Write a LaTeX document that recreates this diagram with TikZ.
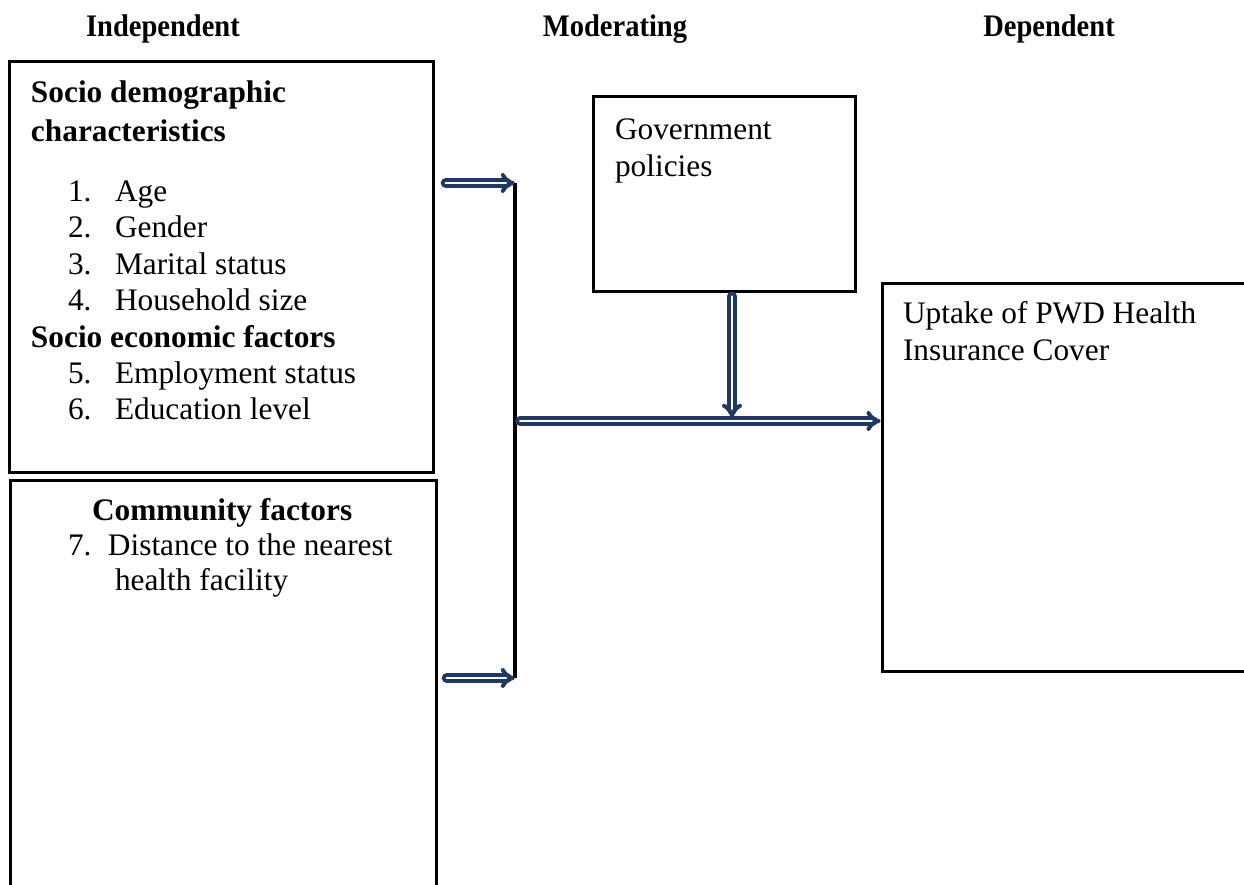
\documentclass[tikz,border=0pt]{standalone}
\usepackage{fontspec}
\setmainfont{Liberation Serif}
\newfontfamily\hdrfont{Liberation Serif}[FakeStretch=0.91]
\usetikzlibrary{fit,arrows.meta}
\definecolor{arrowblue}{RGB}{32,56,100}
\tikzset{
  box/.style={draw=black, line width=2.25pt, rectangle, inner sep=0pt, outer sep=0pt},
  txt/.style={anchor=base west, inner sep=0pt, outer sep=0pt, font=\fontsize{23.5}{27}\selectfont},
  btxt/.style={txt, font=\fontsize{23.5}{27}\selectfont\bfseries},
  hdr/.style={anchor=base, inner sep=0pt, font=\fontsize{23.5}{27}\selectfont\hdrfont\bfseries},
  darr/.style={draw=arrowblue, line width=3pt, double=white, double distance=1.5pt, line cap=round, -{Implies}},
  trunk/.style={draw=black, line width=2.4pt}
}
\begin{document}
\begin{tikzpicture}[x=0.75pt,y=-0.75pt]
\useasboundingbox (0,0) rectangle (1244,884);
\clip (0,0) rectangle (1244,884);
% headers
\node[hdr] (h1) at (163,37) {Independent};
\node[hdr] (h2) at (615,37) {Moderating};
\node[hdr] (h3) at (1049,37) {Dependent};
% boxes
\node[box, fit={(9.5,62) (433,472.5)}] (tl) {};
\node[box, fit={(10,480) (436,960)}] (bl) {};
\node[box, fit={(593,97) (855,291)}] (gov) {};
\node[box, fit={(882,283) (1320,671)}] (ur) {};
% top-left box text
\node[btxt] (t1) at (31,103) {Socio demographic};
\node[btxt] (t2) at (31,142) {characteristics};
\node[txt] (i1) at (68,202) {\makebox[35.25pt][l]{1.}Age};
\node[txt] (i2) at (68,238) {\makebox[35.25pt][l]{2.}Gender};
\node[txt] (i3) at (68,274) {\makebox[35.25pt][l]{3.}Marital status};
\node[txt] (i4) at (68,310) {\makebox[35.25pt][l]{4.}Household size};
\node[btxt] (t3) at (31,347) {Socio economic factors};
\node[txt] (i5) at (68,383) {\makebox[35.25pt][l]{5.}Employment status};
\node[txt] (i6) at (68,419) {\makebox[35.25pt][l]{6.}Education level};
% bottom-left box text
\node[btxt] (c1) at (92,520) {Community factors};
\node[txt] (i7) at (68,555) {\makebox[30pt][l]{7.}Distance to the nearest};
\node[txt] (i7b) at (115,590) {health facility};
% government
\node[txt] (g1) at (615,140) {Government};
\node[txt] (g2) at (615,177) {policies};
% uptake
\node[txt] (u1) at (903,323) {Uptake of PWD Health};
\node[txt] (u2) at (903,360) {Insurance Cover};
% connectors
\coordinate (j1) at (515,183);
\coordinate (j2) at (515,678);
\coordinate (jm) at (520,421);
\coordinate (dbot) at (732,418);
\draw[trunk] (j1) -- (j2);
\draw[darr, shorten <=9.5pt] (tl.east |- j1) -- (j1);
\draw[darr, shorten <=8pt] (bl.east |- j2) -- (j2);
\draw[darr, shorten >=1pt] (jm) -- (ur.west |- jm);
\draw[darr, shorten <=4pt] (gov.south -| dbot) -- (dbot);
\end{tikzpicture}
\end{document}
